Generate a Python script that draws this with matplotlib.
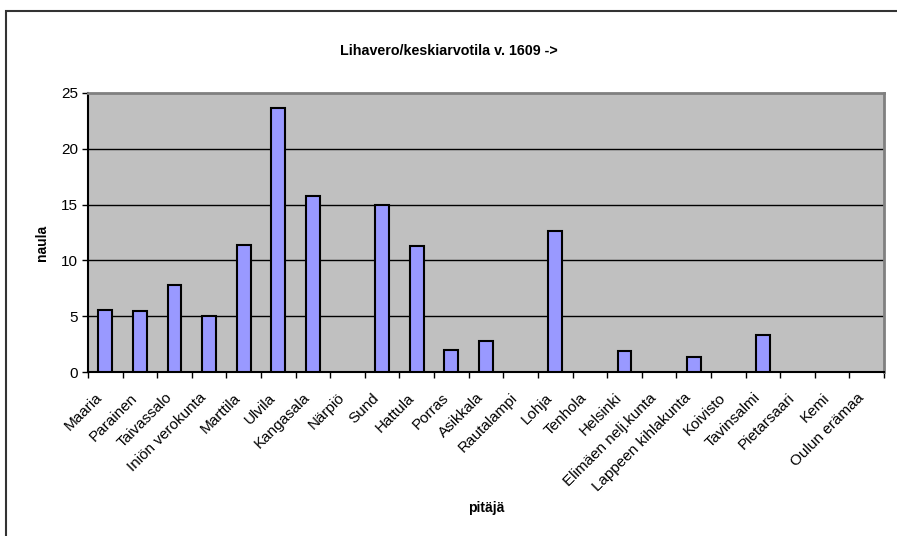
import matplotlib.pyplot as plt
import matplotlib.transforms as mtransforms
import numpy as np
from matplotlib.patches import Rectangle

# Pitäjät ja lihavero / keskiarvotila
pitajat = ["Maaria", "Parainen", "Taivassalo", "Iniön verokunta", "Marttila",
           "Ulvila", "Kangasala", "Närpiö", "Sund", "Hattula", "Porras",
           "Asikkala", "Rautalampi", "Lohja", "Tenhola", "Helsinki",
           "Elimäen nelj.kunta", "Lappeen kihlakunta", "Koivisto",
           "Tavinsalmi", "Pietarsaari", "Kemi", "Oulun erämaa"]
naula = [5.6, 5.5, 7.8, 5.0, 11.4, 23.7, 15.8, 0, 15.0, 11.3, 2.0,
         2.8, 0, 12.6, 0, 1.9, 0, 1.3, 0, 3.3, 0, 0, 0]
y_ticks = [0, 5, 10, 15, 20, 25]

plt.rcParams['font.family'] = ['Liberation Sans', 'DejaVu Sans']
narrow = ['Liberation Sans Narrow', 'Liberation Sans', 'DejaVu Sans']

W, H = 897, 536
fig = plt.figure(figsize=(W / 100, H / 100), dpi=100)

# ulkokehys
fig.patches.append(Rectangle((6 / W, -0.1), 1.2, 1 - 11 / H + 0.1,
                             transform=fig.transFigure, fill=False,
                             edgecolor='#333333', linewidth=1.5))

ax = fig.add_axes([88 / W, 1 - 372 / H, (884 - 88) / W, (372 - 93) / H])
ax.set_facecolor('#c0c0c0')

x = np.arange(len(pitajat))
vals = np.array(naula, dtype=float)
mask = vals > 0
ax.bar(x[mask], vals[mask], width=0.4, color='#9999ff',
       edgecolor='black', linewidth=1.5, zorder=3)

ax.set_xlim(-0.5, len(pitajat) - 0.5)
ax.set_ylim(0, 25)
ax.set_yticks(y_ticks)
for t in y_ticks[1:-1]:
    ax.axhline(t, color='black', linewidth=1, zorder=1)

# tikit kategorioiden välissä, nimet keskellä
ax.set_xticks(np.arange(len(pitajat) + 1) - 0.5)
ax.set_xticklabels([])
ax.set_xticks(x, minor=True)
ax.set_xticklabels(pitajat, minor=True, rotation=45, ha='right',
                   rotation_mode='anchor', fontsize=11)
ax.tick_params(axis='x', which='minor', length=0, pad=9)
ax.tick_params(axis='x', which='major', direction='out', length=4, width=1)
ax.tick_params(axis='y', direction='out', length=4, width=1, labelsize=11, pad=3)

# siirretään nimiä hieman vasemmalle ja alas
offset = mtransforms.ScaledTranslation(-10 / 100, -6 / 100, fig.dpi_scale_trans)
for lab in ax.get_xticklabels(minor=True):
    lab.set_transform(lab.get_transform() + offset)

for s in ['top', 'right']:
    ax.spines[s].set_color('#808080')
    ax.spines[s].set_linewidth(2)
for s in ['left', 'bottom']:
    ax.spines[s].set_color('black')
    ax.spines[s].set_linewidth(1.5)

fig.text(0.5, 1 - 51 / H, "Lihavero/keskiarvotila v. 1609 ->", ha='center',
         va='center', fontsize=10.3, fontweight='bold', family=narrow)
fig.text(42 / W, 1 - 243 / H, "naula", ha='center', va='center', rotation=90,
         fontsize=10, fontweight='bold', family=narrow)
fig.text(486 / W, 1 - 508 / H, "pitäjä", ha='center', va='center',
         fontsize=10, fontweight='bold', family=narrow)

fig.savefig("out.png", dpi=100)
